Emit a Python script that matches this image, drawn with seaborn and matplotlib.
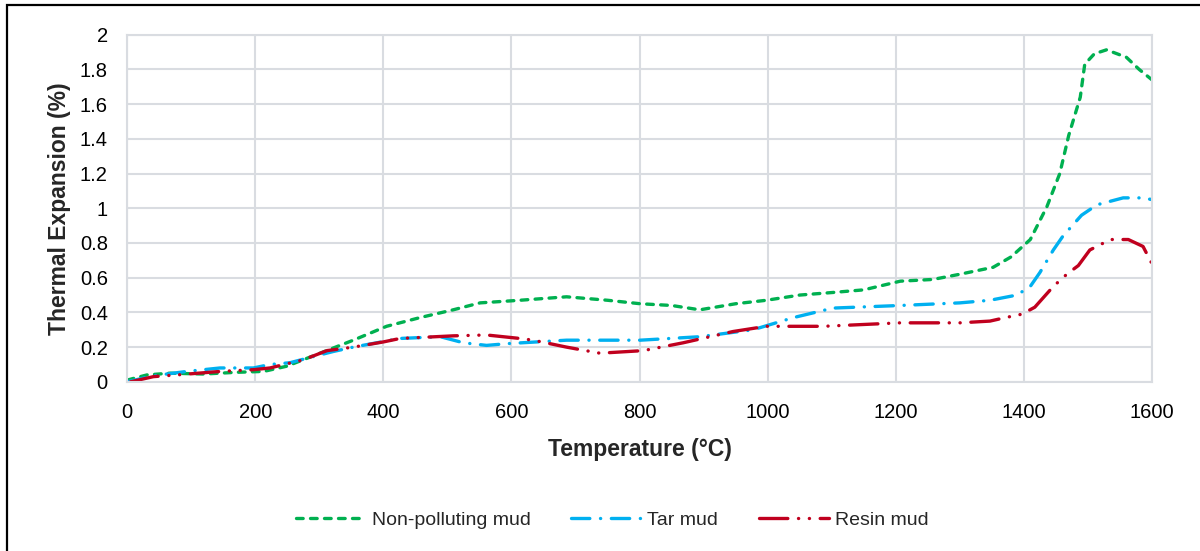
import matplotlib
matplotlib.use("Agg")
import matplotlib.pyplot as plt
import seaborn as sns
from matplotlib.patches import Rectangle

# ---- data ----
np_temp = [0, 10, 31, 67, 119, 171, 213, 249, 301, 353, 405, 457, 509, 551, 613, 686, 750,
           801, 850, 894, 950, 998, 1050, 1102, 1150, 1207, 1258, 1300, 1352, 1380, 1410,
           1436, 1456, 1470, 1488, 1495, 1510, 1529, 1560, 1580, 1600]
np_exp = [0.01, 0.02, 0.04, 0.05, 0.045, 0.055, 0.06, 0.09, 0.165, 0.24, 0.32, 0.37, 0.415,
          0.455, 0.47, 0.49, 0.47, 0.45, 0.44, 0.415, 0.45, 0.47, 0.50, 0.515, 0.53, 0.58,
          0.59, 0.62, 0.66, 0.72, 0.82, 1.01, 1.20, 1.42, 1.64, 1.83, 1.89, 1.913, 1.87,
          1.80, 1.74]

tar_temp = [0, 41, 93, 145, 197, 223, 254, 291, 322, 353, 426, 489, 525, 561, 593, 686, 801,
            894, 977, 1040, 1102, 1207, 1300, 1347, 1389, 1410, 1425, 1446, 1461, 1490, 1514,
            1555, 1585, 1600]
tar_exp = [0.0, 0.035, 0.06, 0.08, 0.08, 0.10, 0.11, 0.146, 0.175, 0.20, 0.25, 0.26, 0.225,
           0.21, 0.22, 0.24, 0.24, 0.26, 0.30, 0.37, 0.425, 0.44, 0.455, 0.47, 0.50, 0.55,
           0.63, 0.76, 0.84, 0.96, 1.02, 1.06, 1.06, 1.05]

res_temp = [5, 41, 78, 145, 197, 223, 275, 312, 353, 400, 426, 509, 561, 613, 634, 686, 738,
            806, 868, 946, 998, 1087, 1207, 1300, 1347, 1371, 1397, 1417, 1446, 1467, 1485,
            1503, 1535, 1563, 1586, 1600]
res_exp = [0.0, 0.03, 0.04, 0.06, 0.07, 0.08, 0.127, 0.18, 0.20, 0.23, 0.25, 0.265, 0.27,
           0.25, 0.24, 0.20, 0.165, 0.18, 0.225, 0.29, 0.32, 0.32, 0.34, 0.34, 0.35, 0.37,
           0.39, 0.43, 0.55, 0.62, 0.67, 0.76, 0.82, 0.82, 0.78, 0.68]

labels = ["Non-polluting mud", "Tar mud", "Resin mud"]
x_ticks = [0, 200, 400, 600, 800, 1000, 1200, 1400, 1600]
y_ticks = [0, 0.2, 0.4, 0.6, 0.8, 1, 1.2, 1.4, 1.6, 1.8, 2]
y_ticklabels = ["0", "0.2", "0.4", "0.6", "0.8", "1", "1.2", "1.4", "1.6", "1.8", "2"]

# ---- style ----
sns.set_theme(style="white")
plt.rcParams["font.family"] = ["Liberation Sans", "DejaVu Sans"]

fig = plt.figure(figsize=(12, 5.51), dpi=100)
ax = fig.add_axes([0.106, 0.307, 0.854, 0.63])

lw = 2.4
sns.lineplot(x=np_temp, y=np_exp, ax=ax, color="#00B050", lw=lw, sort=False,
             linestyle=(0, (2.0, 2.2)), dash_capstyle="round", label=labels[0])
sns.lineplot(x=tar_temp, y=tar_exp, ax=ax, color="#00B0F0", lw=lw, sort=False,
             linestyle=(0, (5.5, 3.2, 0.05, 3.2)), dash_capstyle="round", label=labels[1])
sns.lineplot(x=res_temp, y=res_exp, ax=ax, color="#C0001E", lw=lw, sort=False,
             linestyle=(0, (8.5, 3.2, 0.05, 3.2, 0.05, 3.2)), dash_capstyle="round",
             label=labels[2])

ax.set_xlim(0, 1600)
ax.set_ylim(0, 2)
ax.set_xticks(x_ticks)
ax.set_yticks(y_ticks)
ax.set_yticklabels(y_ticklabels)
ax.tick_params(axis="both", labelsize=14.5, colors="#000000", length=0)
ax.tick_params(axis="x", pad=15)
ax.tick_params(axis="y", pad=14)
ax.grid(True, color="#D9DCE1", lw=1.5)
for s in ax.spines.values():
    s.set_color("#D9DCE1")
    s.set_linewidth(1.5)
ax.set_xlabel("Temperature (°C)", fontsize=16.5, fontweight="bold", labelpad=12)
ax.set_ylabel("Thermal Expansion (%)", fontsize=16.5, fontweight="bold", labelpad=6)

ax.get_legend().remove()
handles, lbls = ax.get_legend_handles_labels()
fig.legend(handles, lbls, loc="center", bbox_to_anchor=(0.51, 0.056), ncol=3,
           frameon=False, fontsize=14, handlelength=3.6, handletextpad=0.3,
           columnspacing=2.1)

fig.patches.append(Rectangle((0.006, -0.02), 1.2, 1.011, transform=fig.transFigure,
                             fill=False, edgecolor="#000000", lw=1.6))

fig.savefig("out.png", dpi=100)
